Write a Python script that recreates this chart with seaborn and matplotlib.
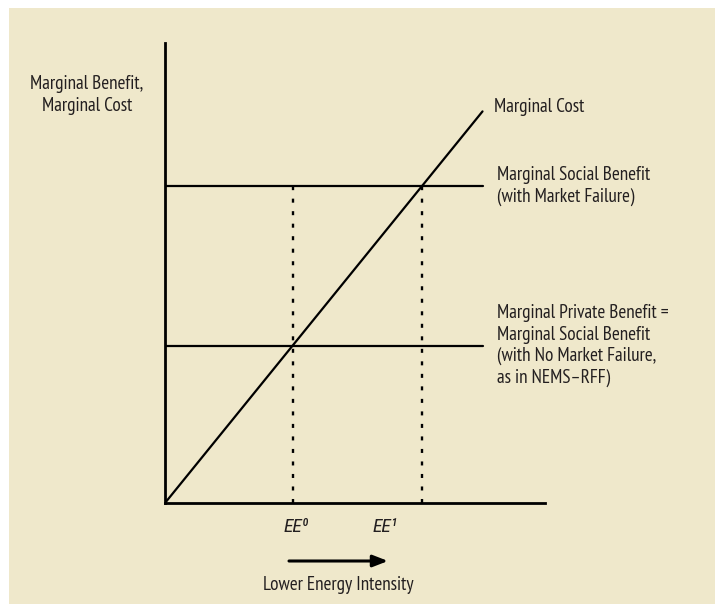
import matplotlib
matplotlib.use("Agg")
import matplotlib.pyplot as plt
import seaborn as sns
from matplotlib.patches import Rectangle

# chart values (arbitrary economic units)
mc_x = [0.0, 2.49]
mc_slope = 1.23
mc_y = [v * mc_slope for v in mc_x]
msb_level = 2.48     # marginal social benefit (with market failure)
mpb_level = 1.23     # marginal private benefit = MSB without failure
line_end = 2.49
ee_points = [mpb_level / mc_slope, msb_level / mc_slope]   # EE0, EE1
ee_labels = ["EE\u2070", "EE\u00b9"]

sns.set_style("white")
plt.rcParams["font.family"] = ["PT Sans Narrow", "DejaVu Sans"]

bg = "#EFE8CB"
txt = "#231f20"
fig = plt.figure(figsize=(7.15, 6.04), dpi=100)
fig.patch.set_facecolor("white")
fig.patches.append(Rectangle((9 / 715, -0.1), 1.2, 1.1 - 8 / 604, transform=fig.transFigure,
                             facecolor=bg, edgecolor="none", zorder=-1))

ax = fig.add_axes([165 / 715, 101 / 604, 380 / 715, 460.3 / 604])
ax.set_facecolor("none")
ax.set_xlim(0, 2.98)
ax.set_ylim(0, 3.6)

# lines
sns.lineplot(x=mc_x, y=mc_y, color="black", lw=1.6, ax=ax)
sns.lineplot(x=[0, line_end], y=[msb_level, msb_level], color="black", lw=1.6, ax=ax)
sns.lineplot(x=[0, line_end], y=[mpb_level, mpb_level], color="black", lw=1.6, ax=ax)
for xe in ee_points:
    ax.plot([xe, xe], [0, msb_level], color="black", lw=1.7,
            linestyle=(0, (1.7, 3.6)), solid_capstyle="butt")

# axes as spines
for s in ["top", "right"]:
    ax.spines[s].set_visible(False)
for s in ["left", "bottom"]:
    ax.spines[s].set_color("black")
    ax.spines[s].set_linewidth(2.0)
ax.set_xticks([])
ax.set_yticks([])

fs = 13.8
ls = 1.25
ax.text(2.58, 3.10, "Marginal Cost", fontsize=fs, va="center", ha="left",
        color=txt, clip_on=False)
ax.text(2.60, msb_level, "Marginal Social Benefit\n(with Market Failure)", fontsize=fs,
        va="center", ha="left", color=txt, linespacing=ls, clip_on=False)
ax.text(2.60, mpb_level, "Marginal Private Benefit =\nMarginal Social Benefit\n"
        "(with No Market Failure,\nas in NEMS\u2013RFF)", fontsize=fs,
        va="center", ha="left", color=txt, linespacing=ls, clip_on=False)

fig.text(87 / 715, 1 - 95 / 604, "Marginal Benefit,\nMarginal Cost", fontsize=fs,
         ha="center", va="center", color=txt, linespacing=ls)

# EE labels (italic, from a condensed family that has an italic face)
ee_font = ["Roboto Condensed", "DejaVu Sans"]
fig.text(296 / 715, 1 - 527 / 604, ee_labels[0], fontsize=14, style="italic",
         family=ee_font, ha="center", va="center", color=txt)
fig.text(385 / 715, 1 - 527 / 604, ee_labels[1], fontsize=14, style="italic",
         family=ee_font, ha="center", va="center", color=txt)

# arrow and caption
ax.annotate("", xy=(388 / 715, 1 - 561 / 604), xytext=(289 / 715, 1 - 561 / 604),
            xycoords="figure fraction", textcoords="figure fraction",
            arrowprops=dict(arrowstyle="-|>,head_length=0.9,head_width=0.35",
                            lw=2.2, color="black", shrinkA=0, shrinkB=0))
fig.text(338 / 715, 1 - 585 / 604, "Lower Energy Intensity", fontsize=fs,
         ha="center", va="center", color=txt)

fig.savefig("out.png", dpi=100, facecolor=fig.get_facecolor())
